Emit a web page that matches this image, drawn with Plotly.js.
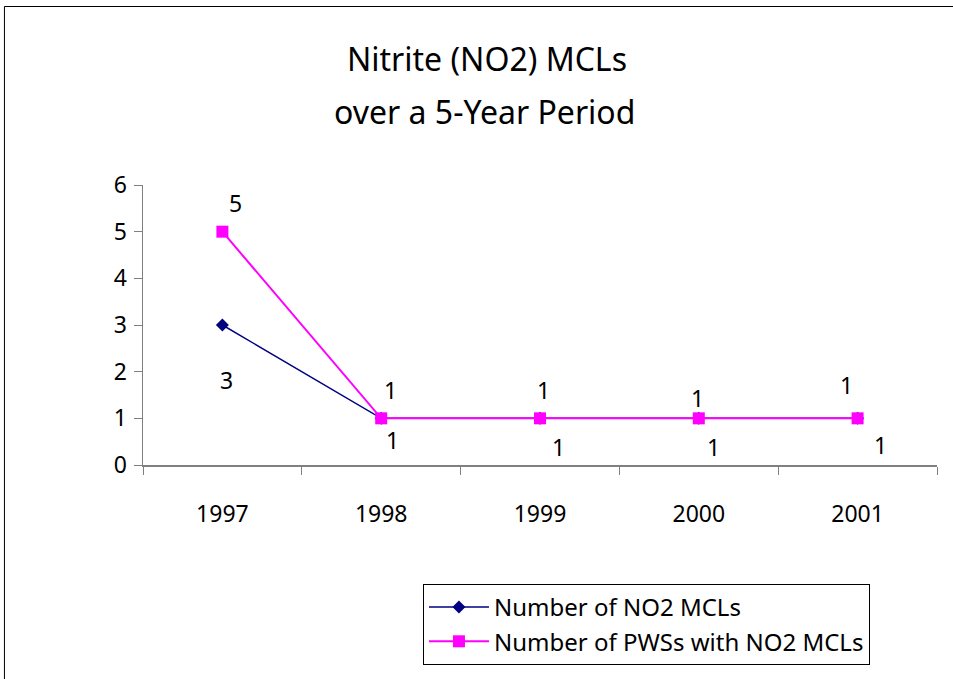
<!DOCTYPE html>
<html>
<head>
<meta charset="utf-8">
<script src="https://cdn.plot.ly/plotly-3.0.1.min.js"></script>
<style>
html,body{margin:0;padding:0;background:#fff;}
#chart{width:953px;height:679px;}
</style>
</head>
<body>
<div id="chart"></div>
<script>
// Data
const years = ["1997", "1998", "1999", "2000", "2001"];
const numNO2MCLs = [3, 1, 1, 1, 1];
const numPWSs = [5, 1, 1, 1, 1];
const seriesNames = ["Number of NO2 MCLs", "Number of PWSs with NO2 MCLs"];
const titleLine1 = "Nitrite (NO2) MCLs";
const titleLine2 = "over a 5-Year Period";

// Label offsets (pixels, style only)
const navyLabelShift = [[4, -55], [11, -22], [18, -29], [15, -29], [23, -27]];
const pinkLabelShift = [[13, 29], [9, 28], [3, 28], [-1, 20], [-11, 33]];

const FONT = "'Comic Sans MS', 'Noto Sans', sans-serif";

const traces = [
  {
    x: years, y: numNO2MCLs, name: seriesNames[0], type: "scatter", mode: "lines+markers",
    line: {color: "#000080", width: 1.5},
    marker: {symbol: "diamond", size: 10, color: "#000080"}
  },
  {
    x: years, y: numPWSs, name: seriesNames[1], type: "scatter", mode: "lines+markers",
    line: {color: "#FF00FF", width: 2},
    marker: {symbol: "square", size: 12, color: "#FF00FF"}
  }
];

const annotations = [];
years.forEach((yr, i) => {
  annotations.push({xref: "x", yref: "y", x: i, y: numNO2MCLs[i], text: String(numNO2MCLs[i]), showarrow: false,
    xshift: navyLabelShift[i][0], yshift: navyLabelShift[i][1], font: {family: FONT, size: 23, color: "#000"}});
  annotations.push({xref: "x", yref: "y", x: i, y: numPWSs[i], text: String(numPWSs[i]), showarrow: false,
    xshift: pinkLabelShift[i][0], yshift: pinkLabelShift[i][1], font: {family: FONT, size: 23, color: "#000"}});
});
// second title line
annotations.push({xref: "paper", yref: "paper", x: 0.43, y: 1.264, xanchor: "center", yanchor: "middle",
  text: titleLine2, showarrow: false, font: {family: FONT, size: 32, color: "#000"}});

const layout = {
  width: 953, height: 679,
  margin: {l: 143, r: 16, t: 185, b: 214},
  paper_bgcolor: "#fff", plot_bgcolor: "#fff",
  font: {family: FONT, size: 20, color: "#000"},
  title: {
    text: titleLine1, x: 0.511, xanchor: "center", y: 0.912, yanchor: "middle", yref: "container",
    font: {family: FONT, size: 32, color: "#000"}
  },
  xaxis: {
    type: "category", range: [-0.5, 4.5], tickson: "boundaries",
    ticks: "outside", ticklen: 8, tickcolor: "#808080", tickwidth: 1,
    showline: true, linecolor: "#808080", linewidth: 1.5, showgrid: false, zeroline: false,
    ticklabelstandoff: 28,
    tickfont: {family: FONT, size: 23, color: "#000"}, automargin: false
  },
  yaxis: {
    range: [0, 6], dtick: 1, ticks: "outside", ticklen: 8, tickcolor: "#808080", tickwidth: 1,
    showline: true, linecolor: "#808080", linewidth: 1.5, showgrid: false, zeroline: false,
    ticklabelstandoff: 2,
    tickfont: {family: FONT, size: 23, color: "#000"}, automargin: false
  },
  showlegend: true,
  legend: {
    x: 0.3526, y: -0.425, xanchor: "left", yanchor: "top",
    bordercolor: "#000", borderwidth: 1, bgcolor: "#fff",
    font: {family: FONT, size: 24, color: "#000"}, tracegroupgap: 0, itemwidth: 60
  },
  annotations: annotations,
  shapes: [{
    type: "rect", xref: "paper", yref: "paper",
    x0: -0.1745, x1: 1.03, y0: -0.9, y1: 1.6375,
    line: {color: "#000", width: 1}, fillcolor: "rgba(0,0,0,0)", layer: "below"
  }]
};

Plotly.newPlot("chart", traces, layout, {displayModeBar: false, staticPlot: true});
</script>
</body>
</html>
